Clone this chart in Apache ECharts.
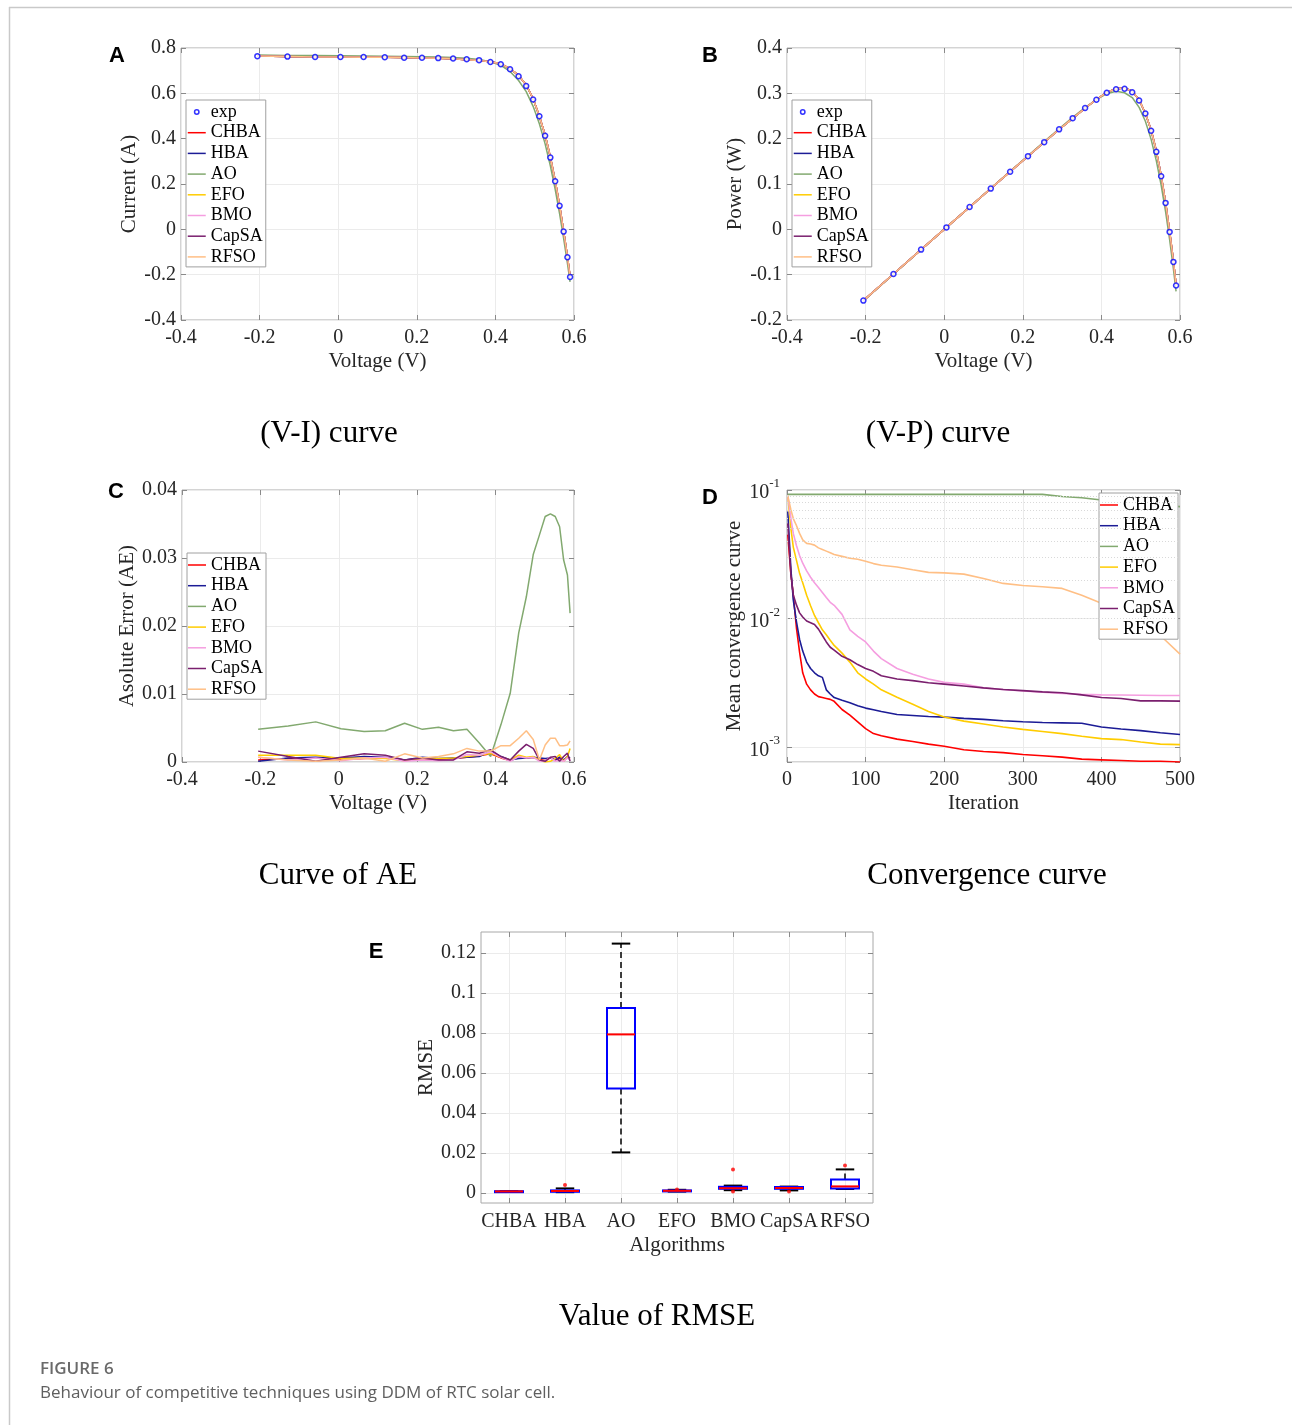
<!DOCTYPE html>
<html><head><meta charset="utf-8">
<script src="https://cdn.jsdelivr.net/npm/echarts@6/dist/echarts.min.js"></script>
<style>html,body{margin:0;padding:0;background:#fff}#c{width:1292px;height:1425px}</style>
</head><body><div id="c"></div><script>
// ---------------- DATA ----------------
const algNames = ['CHBA','HBA','AO','EFO','BMO','CapSA','RFSO'];
const V_exp = [-0.2057,-0.1291,-0.0588,0.0057,0.0646,0.1185,0.1678,0.2132,0.2545,0.2924,0.3269,0.3585,0.3873,0.4137,0.4373,0.4590,0.4784,0.4960,0.5119,0.5265,0.5398,0.5521,0.5633,0.5736,0.5833,0.5900];
const I_exp = [0.7640,0.7620,0.7605,0.7605,0.7600,0.7590,0.7570,0.7570,0.7555,0.7540,0.7505,0.7465,0.7385,0.7280,0.7065,0.6755,0.6320,0.5730,0.4990,0.4130,0.3165,0.2120,0.1035,-0.0100,-0.1230,-0.2100];
const P_exp = [-0.1572,-0.0984,-0.0447,0.0043,0.0491,0.0899,0.1270,0.1614,0.1923,0.2205,0.2453,0.2676,0.2860,0.3012,0.3090,0.3101,0.3024,0.2842,0.2554,0.2174,0.1709,0.1171,0.0583,-0.0057,-0.0718,-0.1239];
const I_fit = [0.7645,0.7623,0.7607,0.7602,0.7597,0.7591,0.7582,0.7562,0.7546,0.7529,0.7485,0.7451,0.7395,0.7303,0.7089,0.6792,0.6366,0.5764,0.4993,0.4163,0.3200,0.2144,0.1059,-0.0075,-0.1199,-0.2070];
const P_fit = [-0.1573,-0.0984,-0.0447,0.0043,0.0491,0.0900,0.1272,0.1612,0.1921,0.2202,0.2447,0.2671,0.2864,0.3021,0.3100,0.3118,0.3046,0.2859,0.2556,0.2192,0.1727,0.1184,0.0597,-0.0043,-0.0699,-0.1221];
const I_AO = [0.7688,0.7674,0.7664,0.7655,0.7645,0.7636,0.7627,0.7618,0.7606,0.7586,0.7553,0.7495,0.7393,0.7235,0.6964,0.6565,0.6077,0.5425,0.4656,0.3769,0.2800,0.1759,0.0689,-0.0397,-0.1505,-0.2319];
const P_AO = [-0.1581,-0.0991,-0.0451,0.0044,0.0494,0.0905,0.1280,0.1624,0.1936,0.2218,0.2469,0.2687,0.2863,0.2993,0.3045,0.3013,0.2907,0.2691,0.2383,0.1984,0.1511,0.0971,0.0388,-0.0228,-0.0878,-0.1368];

const AE_CHBA  = [0.0003,0.0005,0.0006,0.0004,0.0005,0.0006,0.0003,0.0005,0.0004,0.0005,0.0007,0.0009,0.0012,0.0006,0.0002,0.0008,0.0006,0.0007,0.0004,0.0002,0.0006,0.0003,0.0005,0.0002,0.0007,0.0005];
const AE_HBA   = [0.0001,0.0006,0.0007,0.0006,0.0008,0.0007,0.0003,0.0007,0.0005,0.0006,0.0007,0.0008,0.0016,0.0008,0.0003,0.0005,0.0006,0.0007,0.0006,0.0005,0.0006,0.0003,0.0007,0.0003,0.0008,0.0006];
const AE_AO    = [0.0048,0.0053,0.0059,0.0049,0.0045,0.0046,0.0057,0.0048,0.0051,0.0046,0.0048,0.0028,0.0008,0.0055,0.0101,0.0190,0.0243,0.0305,0.0334,0.0361,0.0365,0.0361,0.0346,0.0297,0.0275,0.0219];
const AE_EFO   = [0.0010,0.0010,0.0010,0.0005,0.0006,0.0005,0.0002,0.0005,0.0005,0.0006,0.0008,0.0010,0.0013,0.0007,0.0003,0.0010,0.0007,0.0008,0.0003,0.0000,0.0001,0.0005,0.0011,0.0001,0.0008,0.0020];
const AE_BMO   = [0.0007,0.0003,0.0006,0.0002,0.0006,0.0007,0.0001,0.0003,0.0002,0.0003,0.0011,0.0010,0.0015,0.0007,0.0001,0.0008,0.0006,0.0007,0.0001,0.0002,0.0007,0.0001,0.0003,0.0001,0.0006,0.0003];
const AE_CapSA = [0.0016,0.0008,0.0001,0.0007,0.0012,0.0010,0.0003,0.0006,0.0003,0.0003,0.0015,0.0013,0.0018,0.0008,0.0003,0.0016,0.0026,0.0020,0.0003,0.0001,0.0007,0.0008,0.0001,0.0008,0.0013,0.0001];
const AE_RFSO  = [0.0007,0.0003,0.0001,0.0003,0.0006,0.0001,0.0012,0.0006,0.0008,0.0012,0.0020,0.0016,0.0016,0.0024,0.0024,0.0035,0.0046,0.0033,0.0003,0.0025,0.0035,0.0035,0.0024,0.0024,0.0025,0.0031];

const iterD = [1,5,8,12,16,20,25,30,35,40,45,50,55,60,70,80,90,100,110,120,140,160,180,200,225,250,275,300,325,350,375,400,425,450,475,500];
const conv_CHBA  = [0.045,0.022,0.0153,0.0085,0.0055,0.0038,0.0031,0.0028,0.0026,0.00248,0.00244,0.0024,0.00236,0.00228,0.00197,0.00178,0.00158,0.0014,0.00128,0.00123,0.00116,0.00111,0.00106,0.00102,0.00096,0.00093,0.00091,0.00088,0.00086,0.00084,0.00081,0.0008,0.00079,0.00078,0.00078,0.00077];
const conv_HBA   = [0.068,0.024,0.014,0.0095,0.0069,0.0056,0.0046,0.0041,0.0038,0.0036,0.0035,0.0028,0.0026,0.00244,0.00232,0.00222,0.00211,0.00202,0.00196,0.0019,0.0018,0.00177,0.00174,0.00172,0.00168,0.00165,0.00161,0.00158,0.00156,0.00155,0.00154,0.00144,0.00139,0.00135,0.0013,0.00126];
const conv_AO    = [0.0925,0.0925,0.0925,0.0925,0.0925,0.0925,0.0925,0.0925,0.0925,0.0925,0.0925,0.0925,0.0925,0.0925,0.0925,0.0925,0.0925,0.0925,0.0925,0.0925,0.0925,0.0925,0.0925,0.0925,0.0925,0.0925,0.0925,0.0925,0.0925,0.089,0.087,0.0836,0.081,0.078,0.076,0.0743];
const conv_EFO   = [0.09,0.05,0.036,0.0285,0.0225,0.019,0.0152,0.0126,0.0106,0.0093,0.0082,0.0075,0.0068,0.0062,0.0054,0.0046,0.0038,0.0034,0.0031,0.0028,0.00245,0.00216,0.0019,0.00172,0.0016,0.00152,0.00144,0.00138,0.00133,0.00128,0.00122,0.00117,0.00115,0.0011,0.00106,0.00105];
const conv_BMO   = [0.09,0.06,0.046,0.037,0.031,0.027,0.0235,0.021,0.019,0.0175,0.016,0.0146,0.0134,0.0127,0.0108,0.0082,0.0073,0.0066,0.0056,0.0049,0.0041,0.0037,0.0034,0.0032,0.0031,0.0029,0.00282,0.00274,0.00268,0.00262,0.00258,0.00256,0.00255,0.00254,0.00253,0.00253];
const conv_CapSA = [0.055,0.022,0.0153,0.0128,0.0111,0.0103,0.0096,0.0093,0.009,0.0083,0.0074,0.0066,0.006,0.0057,0.0051,0.0048,0.0044,0.0041,0.0039,0.0036,0.0034,0.0033,0.00318,0.0031,0.003,0.0029,0.00282,0.00276,0.0027,0.00266,0.00256,0.00244,0.0024,0.0023,0.0023,0.00229];
const conv_RFSO  = [0.09,0.07,0.06,0.053,0.046,0.041,0.0385,0.038,0.0373,0.0355,0.0345,0.0335,0.0325,0.0315,0.0305,0.0295,0.029,0.0279,0.0268,0.026,0.0252,0.024,0.0229,0.0227,0.0222,0.0205,0.0188,0.0181,0.0177,0.0172,0.0152,0.0132,0.0115,0.0098,0.0074,0.0053];
const minorGridD = [0.0008,0.0009,0.002,0.003,0.004,0.005,0.006,0.007,0.008,0.009,0.02,0.03,0.04,0.05,0.06,0.07,0.08,0.09];

const rmseMin = [0.0006,0.0004,0.0203,0.0007,0.0014,0.0013,0.0020];
const rmseQ1  = [0.0007,0.0006,0.0522,0.0009,0.0021,0.0021,0.0023];
const rmseMed = [0.0008,0.0010,0.0793,0.0011,0.0024,0.0025,0.0033];
const rmseQ3  = [0.0009,0.0013,0.0925,0.0013,0.0031,0.0030,0.0068];
const rmseMax = [0.0010,0.0023,0.1247,0.0016,0.0037,0.0032,0.0118];
const outlierCat = [1,3,4,4,5,6];
const outlierVal = [0.0040,0.0017,0.0118,0.0007,0.0008,0.0138];
const rmseTicks = [0,0.02,0.04,0.06,0.08,0.1,0.12];

// ---------------- STYLE ----------------
const SERIF = '"Liberation Serif","Times New Roman",serif';
const COLORS = {CHBA:'#ff0000',HBA:'#1c1c96',AO:'#82a96f',EFO:'#ffcc00',BMO:'#f59ee0',CapSA:'#7a1f6e',RFSO:'#ffbf85'};
const BORDER = '#a8a8a8', SPLIT = '#ebebeb', TXT = '#262626';
const grids = [
  {left:181,top:48,width:393,height:272},
  {left:787,top:48,width:393,height:272},
  {left:182,top:490,width:392,height:272},
  {left:787,top:490,width:393,height:272},
  {left:481,top:932,width:392,height:271}
].map(g=>Object.assign({show:true,borderColor:BORDER,borderWidth:1,backgroundColor:'#fff'},g));

const tickStyle = {show:true,inside:true,length:5,lineStyle:{color:'#8a8a8a',width:1}};
const lblStyle = {fontFamily:SERIF,fontSize:20,color:TXT};
const nameStyle = {fontFamily:SERIF,fontSize:21,color:TXT};
const noLine = {show:false,onZero:false};
function mainX(gi,o){return Object.assign({type:'value',gridIndex:gi,position:'bottom',nameLocation:'middle',nameGap:31,nameTextStyle:nameStyle,
  axisLine:noLine,axisTick:tickStyle,axisLabel:Object.assign({margin:8},lblStyle),splitLine:{show:true,lineStyle:{color:SPLIT}}},o);}
function topX(gi,o){return Object.assign({type:'value',gridIndex:gi,position:'top',axisLine:noLine,axisTick:tickStyle,axisLabel:{show:false},splitLine:{show:false}},o);}
function mainY(gi,o){return Object.assign({type:'value',gridIndex:gi,position:'left',nameLocation:'middle',nameGap:40,nameTextStyle:nameStyle,
  axisLine:noLine,axisTick:tickStyle,axisLabel:Object.assign({margin:5},lblStyle),splitLine:{show:true,lineStyle:{color:SPLIT}}},o);}
function rightY(gi,o){return Object.assign({type:'value',gridIndex:gi,position:'right',axisLine:noLine,axisTick:tickStyle,axisLabel:{show:false},splitLine:{show:false}},o);}

const xAxes = [], yAxes = [];
// A
xAxes.push(mainX(0,{min:-0.4,max:0.6,interval:0.2,name:'Voltage (V)'}), topX(0,{min:-0.4,max:0.6,interval:0.2}));
yAxes.push(mainY(0,{min:-0.4,max:0.8,interval:0.2,name:'Current (A)',nameGap:40}), rightY(0,{min:-0.4,max:0.8,interval:0.2}));
// B
xAxes.push(mainX(1,{min:-0.4,max:0.6,interval:0.2,name:'Voltage (V)'}), topX(1,{min:-0.4,max:0.6,interval:0.2}));
yAxes.push(mainY(1,{min:-0.2,max:0.4,interval:0.1,name:'Power (W)',nameGap:39}), rightY(1,{min:-0.2,max:0.4,interval:0.1}));
// C
xAxes.push(mainX(2,{min:-0.4,max:0.6,interval:0.2,name:'Voltage (V)'}), topX(2,{min:-0.4,max:0.6,interval:0.2}));
yAxes.push(mainY(2,{min:0,max:0.04,interval:0.01,name:'Asolute Error (AE)',nameGap:43}), rightY(2,{min:0,max:0.04,interval:0.01}));
// D
xAxes.push(mainX(3,{min:0,max:500,interval:100,name:'Iteration'}), topX(3,{min:0,max:500,interval:100}));
const logLabel = v => { const l = Math.log10(v); const e = Math.round(l); if (Math.abs(l-e)>1e-6) return ''; return '{b|10}{s|' + e + '}'; };
yAxes.push(mainY(3,{type:'log',logBase:10,min:0.00077,max:0.1,name:'Mean convergence curve',nameGap:41,
  axisLabel:{margin:7,formatter:logLabel,rich:{b:{fontFamily:SERIF,fontSize:20,color:TXT,lineHeight:26,verticalAlign:'bottom'},s:{fontFamily:SERIF,fontSize:13,color:TXT,lineHeight:14,verticalAlign:'top'}}}}),
  rightY(3,{type:'log',logBase:10,min:0.00077,max:0.1}));
// E
xAxes.push({type:'category',gridIndex:4,position:'bottom',data:algNames,name:'Algorithms',nameLocation:'middle',nameGap:32,nameTextStyle:nameStyle,
  axisLine:noLine,axisTick:Object.assign({alignWithLabel:true},tickStyle),axisLabel:Object.assign({margin:9,interval:0},lblStyle),
  splitLine:{show:true,alignWithLabel:true,interval:0,lineStyle:{color:SPLIT}}});
xAxes.push({type:'category',gridIndex:4,position:'top',data:algNames,axisLine:noLine,axisTick:Object.assign({alignWithLabel:true},tickStyle),axisLabel:{show:false},splitLine:{show:false}});
yAxes.push(mainY(4,{min:-0.005,max:0.1305,splitNumber:7,name:'RMSE',nameGap:42,
  axisLabel:Object.assign({margin:5,customValues:rmseTicks},lblStyle),
  axisTick:Object.assign({customValues:rmseTicks},tickStyle)}),
  rightY(4,{min:-0.005,max:0.1305,splitNumber:7,axisTick:Object.assign({customValues:rmseTicks},tickStyle)}));

// ---------------- SERIES ----------------
const series = [];
function pairs(xs,ys){return xs.map((x,i)=>[x,ys[i]]);}
function lineS(name,gi,xs,ys,w){return {type:'line',name,xAxisIndex:2*gi,yAxisIndex:2*gi,data:pairs(xs,ys),symbol:'none',showSymbol:false,
  lineStyle:{width:w||1.5,color:COLORS[name]},itemStyle:{color:COLORS[name]},animation:false,z:3};}
const expStyle = {color:'#ffffff',borderColor:'#0000ff',borderWidth:1.5};
// A
const I_by = {CHBA:I_fit,HBA:I_fit,AO:I_AO,EFO:I_fit,BMO:I_fit,CapSA:I_fit,RFSO:I_fit};
const P_by = {CHBA:P_fit,HBA:P_fit,AO:P_AO,EFO:P_fit,BMO:P_fit,CapSA:P_fit,RFSO:P_fit};
algNames.forEach(n=>series.push(lineS(n,0,V_exp,I_by[n])));
series.push({type:'scatter',name:'exp',xAxisIndex:0,yAxisIndex:0,data:pairs(V_exp,I_exp),symbol:'circle',symbolSize:5,itemStyle:expStyle,z:6,animation:false});
// B
algNames.forEach(n=>series.push(lineS(n,1,V_exp,P_by[n])));
series.push({type:'scatter',name:'exp',xAxisIndex:2,yAxisIndex:2,data:pairs(V_exp,P_exp),symbol:'circle',symbolSize:5,itemStyle:expStyle,z:6,animation:false});
// C
const AE_by = {CHBA:AE_CHBA,HBA:AE_HBA,AO:AE_AO,EFO:AE_EFO,BMO:AE_BMO,CapSA:AE_CapSA,RFSO:AE_RFSO};
algNames.forEach(n=>series.push(lineS(n,2,V_exp,AE_by[n])));
// D
const conv_by = {CHBA:conv_CHBA,HBA:conv_HBA,AO:conv_AO,EFO:conv_EFO,BMO:conv_BMO,CapSA:conv_CapSA,RFSO:conv_RFSO};
series.push({type:'line',xAxisIndex:6,yAxisIndex:6,data:[],silent:true,z:1,animation:false,
  markLine:{silent:true,symbol:['none','none'],label:{show:false},animation:false,
    lineStyle:{color:'#d9d9d9',type:[1,2],width:1},data:minorGridD.map(v=>({yAxis:v}))}});
algNames.forEach(n=>series.push(lineS(n,3,iterD,conv_by[n],1.6)));
// E
const boxData = algNames.map((n,i)=>[i,rmseMin[i],rmseQ1[i],rmseMed[i],rmseQ3[i],rmseMax[i]]);
series.push({type:'custom',xAxisIndex:8,yAxisIndex:8,data:boxData,encode:{x:0,y:[1,2,3,4,5]},animation:false,z:4,
  renderItem:function(params,api){
    const xi=api.value(0);
    const pMin=api.coord([xi,api.value(1)]),pQ1=api.coord([xi,api.value(2)]),pMed=api.coord([xi,api.value(3)]),
          pQ3=api.coord([xi,api.value(4)]),pMax=api.coord([xi,api.value(5)]);
    const band=api.size([1,0])[0], bw=band*0.5, cw=band*0.33, cx=pMed[0];
    const dash={stroke:'#000',lineWidth:1.5,lineDash:[6,4]};
    return {type:'group',children:[
      {type:'line',shape:{x1:cx,y1:pQ3[1],x2:cx,y2:pMax[1]},style:dash},
      {type:'line',shape:{x1:cx,y1:pQ1[1],x2:cx,y2:pMin[1]},style:dash},
      {type:'line',shape:{x1:cx-cw/2,y1:pMax[1],x2:cx+cw/2,y2:pMax[1]},style:{stroke:'#000',lineWidth:2}},
      {type:'line',shape:{x1:cx-cw/2,y1:pMin[1],x2:cx+cw/2,y2:pMin[1]},style:{stroke:'#000',lineWidth:2}},
      {type:'rect',shape:{x:cx-bw/2,y:pQ3[1],width:bw,height:Math.max(pQ1[1]-pQ3[1],1)},style:{fill:'rgba(0,0,0,0)',stroke:'#0000ff',lineWidth:2}},
      {type:'line',shape:{x1:cx-bw/2,y1:pMed[1],x2:cx+bw/2,y2:pMed[1]},style:{stroke:'#ff0000',lineWidth:2}}
    ]};
  }});
series.push({type:'scatter',xAxisIndex:8,yAxisIndex:8,data:pairs(outlierCat,outlierVal),symbol:'circle',symbolSize:4,itemStyle:{color:'#ff0000'},z:5,animation:false});

// ---------------- LEGENDS ----------------
const expIcon = 'path://M0,0M18,14M11.2,7A2.2,2.2,0,1,1,6.8,7A2.2,2.2,0,1,1,11.2,7Z';
const lineIcon = 'path://M0,0M18,14M0,6.25L18,6.25L18,7.75L0,7.75Z';
function legend(left,top,withExp){
  const data = (withExp?[{name:'exp',icon:expIcon,itemStyle:{color:'rgba(0,0,0,0)',borderColor:'#0000ff',borderWidth:1.5}}]:[])
    .concat(algNames.map(n=>({name:n,icon:lineIcon,itemStyle:{color:COLORS[n],borderWidth:0}})));
  return {orient:'vertical',left,top,data,selectedMode:false,backgroundColor:'#fff',borderColor:'#a0a0a0',borderWidth:1,
    padding:[3,3,1,1],itemGap:2.7,itemWidth:18,itemHeight:14,textStyle:{fontFamily:SERIF,fontSize:18,color:'#000'}};
}
const legends = [legend(186,100,true),legend(792,100,true),legend(187,553,false),legend(1099,493,false)];

// ---------------- GRAPHIC TEXT ----------------
function txt(x,y,text,font,fill,align){return {type:'text',x,y,silent:true,style:{text,font,fill:fill||'#000',textAlign:align||'center',textVerticalAlign:'middle',align:align||'center',verticalAlign:'middle'}};}
const LET = 'bold 22px "Liberation Sans",Arial,sans-serif';
const CAP = '31px "Liberation Serif","Times New Roman",serif';
const graphic = [
  {type:'line',silent:true,shape:{x1:9,y1:7.5,x2:1292,y2:7.5},style:{stroke:'#c9c9c9',lineWidth:1.5}},
  {type:'line',silent:true,shape:{x1:9.5,y1:7,x2:9.5,y2:1425},style:{stroke:'#c9c9c9',lineWidth:1.5}},
  txt(117,56,'A',LET), txt(710,56,'B',LET), txt(116,492,'C',LET), txt(710,498,'D',LET), txt(376,952,'E',LET),
  txt(329,434,'(V-I) curve',CAP), txt(938,434,'(V-P) curve',CAP), txt(338,876,'Curve of AE',CAP),
  txt(987,876,'Convergence curve',CAP), txt(657,1317,'Value of RMSE',CAP),
  txt(40,1369,'FIGURE 6','600 17px "Open Sans",sans-serif','#6a6a6a','left'),
  txt(40,1393,'Behaviour of competitive techniques using DDM of RTC solar cell.','17px "Open Sans",sans-serif','#5f5f5f','left')
];

const chart = echarts.init(document.getElementById('c'));
chart.setOption({animation:false,backgroundColor:'#fff',grid:grids,xAxis:xAxes,yAxis:yAxes,series,legend:legends,graphic});
</script></body></html>
